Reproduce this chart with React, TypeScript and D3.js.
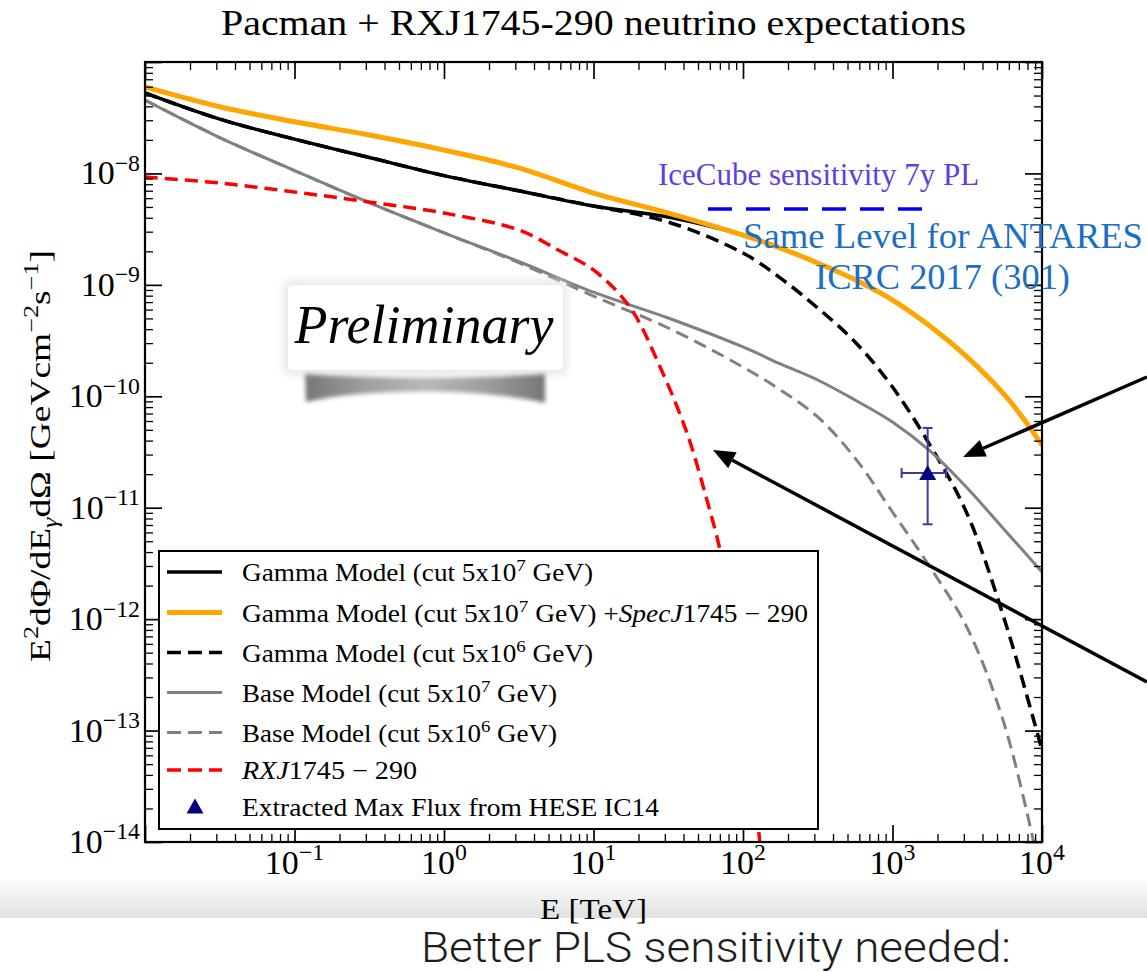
import React, { useEffect, useRef } from 'react';
import * as d3 from 'd3';

// energies in TeV, fluxes in GeV cm^-2 s^-1
const energyGrid = [0.01, 0.0316, 0.1, 0.316, 1, 3.16, 10, 31.6, 100, 178, 316, 562, 1000, 1780, 3160, 5620, 10000];
const energyGridTail = [0.01, 0.0316, 0.1, 0.316, 1, 3.16, 10, 31.6, 100, 178, 316, 562, 1000, 1780, 3160, 5620, 7940, 10000];

const gammaCut7 = [5.27e-8, 3.07e-8, 2.03e-8, 1.39e-8, 9.56e-9, 6.99e-9, 5.1e-9, 4.06e-9, 2.8e-9, 2.14e-9, 1.57e-9, 1.11e-9, 7.31e-10, 4.27e-10, 2.25e-10, 1.03e-10, 5.7e-11, 3.64e-11];
const gammaCut7PlusRxj = [5.97e-8, 3.97e-8, 2.91e-8, 2.21e-8, 1.62e-8, 1.12e-8, 6.67e-9, 4.41e-9, 2.8e-9, 2.14e-9, 1.57e-9, 1.11e-9, 7.31e-10, 4.27e-10, 2.25e-10, 1.03e-10, 5.7e-11, 3.64e-11];
const gammaCut6 = [5.27e-8, 3.07e-8, 2.03e-8, 1.39e-8, 9.56e-9, 6.99e-9, 5.1e-9, 3.66e-9, 1.93e-9, 1.15e-9, 6.2e-10, 3.07e-10, 1.21e-10, 3.65e-11, 8.78e-12, 9.83e-13, 6.69e-14];
const baseCut7 = [4.56e-8, 2.1e-8, 1.06e-8, 5.46e-9, 2.93e-9, 1.62e-9, 8.6e-10, 5.04e-10, 2.77e-10, 1.95e-10, 1.4e-10, 9.26e-11, 5.88e-11, 3.23e-11, 1.5e-11, 6.31e-12, 2.65e-12];
const baseCut6 = [4.56e-8, 2.1e-8, 1.06e-8, 5.46e-9, 2.93e-9, 1.58e-9, 7.92e-10, 4.1e-10, 1.83e-10, 1.14e-10, 6.52e-11, 2.79e-11, 9.15e-12, 2.94e-12, 8.33e-13, 1.12e-13, 4.56e-15];

const rxjEnergy = [0.01, 0.0316, 0.1, 0.316, 1, 3.16, 5.97, 10, 17.5, 27.9, 42.2, 57.4, 70.2, 103, 128, 143];
const rxjFlux = [9.29e-9, 8.2e-9, 6.81e-9, 5.54e-9, 4.41e-9, 3.11e-9, 2.01e-9, 1.36e-9, 6.33e-10, 1.83e-10, 4.68e-11, 1.17e-11, 4.17e-12, 2.84e-13, 1.16e-14, 3.02e-15];

// extracted HESE point: [E, flux], x error range, y error range
const hesePoint = [1719, 2.05e-11];
const heseErrE = [1151, 2278];
const heseErrFlux = [7.1e-12, 5.2e-11];

// IceCube 7y sensitivity level
const sensEnergy = [58.3, 1600];
const sensFlux = [4.8e-9, 4.8e-9];

// annotation arrows: [E, flux] of tail and tip
const arrowTails = [[50350, 1.49e-10], [50350, 2.73e-13]];
const arrowTips = [[2965, 2.85e-11], [63, 3.3e-11]];

const xDecades = [-2, -1, 0, 1, 2, 3, 4];
const yDecades = [-14, -13, -12, -11, -10, -9, -8, -7];
const xLabelDecades = [-1, 0, 1, 2, 3, 4];
const yLabelDecades = [-14, -13, -12, -11, -10, -9, -8];

type Seg = { t: string; sup?: boolean; sub?: boolean; it?: boolean };

const legendLabels: Seg[][] = [
  [{ t: 'Gamma Model (cut 5x10' }, { t: '7', sup: true }, { t: ' GeV)' }],
  [{ t: 'Gamma Model (cut 5x10' }, { t: '7', sup: true }, { t: ' GeV) +' }, { t: 'SpecJ', it: true }, { t: '1745 − 290' }],
  [{ t: 'Gamma Model (cut 5x10' }, { t: '6', sup: true }, { t: ' GeV)' }],
  [{ t: 'Base Model (cut 5x10' }, { t: '7', sup: true }, { t: ' GeV)' }],
  [{ t: 'Base Model (cut 5x10' }, { t: '6', sup: true }, { t: ' GeV)' }],
  [{ t: 'RXJ', it: true }, { t: '1745 − 290' }],
  [{ t: 'Extracted Max Flux from HESE IC14' }],
];
const legendWidths = [351, 566, 351, 315, 315, 175, 417];

const serif = "'Liberation Serif', 'Times New Roman', serif";

function addSegs(text: any, segs: Seg[], size: number) {
  let offset = 0;
  segs.forEach(s => {
    const target = s.sup ? -size * 0.4 : s.sub ? size * 0.25 : 0;
    const ts = text.append('tspan').attr('dy', target - offset).text(s.t);
    offset = target;
    if (s.sup || s.sub) ts.attr('font-size', size * 0.7);
    if (s.it) ts.attr('font-style', 'italic');
  });
}

const App = () => {
  const svgRef = useRef<SVGSVGElement>(null);

  useEffect(() => {
    const svg = d3.select(svgRef.current);
    svg.selectAll('*').remove();

    const left = 145, right = 1042, top = 62, bottom = 842;
    const x = d3.scaleLog().domain([0.01, 1e4]).range([left, right]);
    const y = d3.scaleLog().domain([1e-14, 1e-7]).range([bottom, top]);

    const defs = svg.append('defs');
    defs.append('clipPath').attr('id', 'plot-clip')
      .append('rect').attr('x', left).attr('y', top).attr('width', right - left).attr('height', bottom - top);
    const band = defs.append('linearGradient').attr('id', 'band').attr('x1', 0).attr('y1', 0).attr('x2', 0).attr('y2', 1);
    band.append('stop').attr('offset', '0%').attr('stop-color', '#ffffff');
    band.append('stop').attr('offset', '100%').attr('stop-color', '#e0e0e0');
    const shade = defs.append('linearGradient').attr('id', 'shade');
    [['0%', '#767676'], ['22%', '#9a9a9a'], ['50%', '#b8b8b8'], ['78%', '#9a9a9a'], ['100%', '#767676']]
      .forEach(([o, c]) => shade.append('stop').attr('offset', o).attr('stop-color', c));
    defs.append('filter').attr('id', 'blur2').attr('x', '-20%').attr('y', '-50%').attr('width', '140%').attr('height', '200%')
      .append('feGaussianBlur').attr('stdDeviation', 2);
    defs.append('filter').attr('id', 'blur5').attr('x', '-20%').attr('y', '-50%').attr('width', '140%').attr('height', '200%')
      .append('feGaussianBlur').attr('stdDeviation', 5);

    svg.append('rect').attr('width', 1147).attr('height', 972).attr('fill', '#fff');

    // slide shadow band under the axis
    svg.append('rect').attr('x', 0).attr('y', 878).attr('width', 1147).attr('height', 40).attr('fill', 'url(#band)');

    // title
    svg.append('text')
      .attr('x', (left + right) / 2).attr('y', 35)
      .attr('text-anchor', 'middle')
      .attr('font-family', serif).attr('font-size', 36)
      .attr('textLength', 745).attr('lengthAdjust', 'spacingAndGlyphs')
      .text('Pacman + RXJ1745-290 neutrino expectations');

    // curves
    const line = d3.line<[number, number]>()
      .x(d => x(d[0]))
      .y(d => y(d[1]))
      .curve(d3.curveCatmullRom.alpha(0.5));

    const series = [
      { energy: energyGridTail, flux: gammaCut7, color: '#000', width: 3.5, dash: null },
      { energy: energyGridTail, flux: gammaCut7PlusRxj, color: '#FFA500', width: 5, dash: null },
      { energy: energyGrid, flux: gammaCut6, color: '#000', width: 3.5, dash: '13,7' },
      { energy: energyGrid, flux: baseCut7, color: '#808080', width: 3, dash: null },
      { energy: energyGrid, flux: baseCut6, color: '#808080', width: 3, dash: '13,7' },
      { energy: rxjEnergy, flux: rxjFlux, color: '#FF0000', width: 3.5, dash: '13,7' },
    ];

    const curves = svg.append('g').attr('clip-path', 'url(#plot-clip)');
    series.forEach(s => {
      curves.append('path')
        .datum(d3.zip(s.energy, s.flux) as [number, number][])
        .attr('fill', 'none')
        .attr('stroke', s.color)
        .attr('stroke-width', s.width)
        .attr('stroke-dasharray', s.dash)
        .attr('d', line);
    });

    // sensitivity level
    svg.append('path')
      .datum(d3.zip(sensEnergy, sensFlux) as [number, number][])
      .attr('fill', 'none')
      .attr('stroke', '#0000FF')
      .attr('stroke-width', 3.5)
      .attr('stroke-dasharray', '24,14')
      .attr('d', d3.line<[number, number]>().x(d => x(d[0])).y(d => y(d[1])));

    // HESE point with error bars
    const px = x(hesePoint[0]), py = y(hesePoint[1]);
    const eb = svg.append('g').attr('stroke', '#3b3b9e').attr('stroke-width', 2);
    eb.append('line').attr('x1', x(heseErrE[0])).attr('x2', x(heseErrE[1])).attr('y1', py).attr('y2', py);
    eb.append('line').attr('x1', px).attr('x2', px).attr('y1', y(heseErrFlux[0])).attr('y2', y(heseErrFlux[1]));
    heseErrE.forEach(e => eb.append('line').attr('x1', x(e)).attr('x2', x(e)).attr('y1', py - 5).attr('y2', py + 5));
    heseErrFlux.forEach(f => eb.append('line').attr('x1', px - 5).attr('x2', px + 5).attr('y1', y(f)).attr('y2', y(f)));
    const tri = (cx: number, cy: number) => `M${cx},${cy - 8}L${cx + 8.5},${cy + 7}L${cx - 8.5},${cy + 7}Z`;
    svg.append('path').attr('d', tri(px, py)).attr('fill', '#000080');

    // ticks on all four sides, pointing inward
    const xMinor: number[] = [];
    xDecades.slice(0, -1).forEach(p => d3.range(2, 10).forEach(m => xMinor.push(m * 10 ** p)));
    const yMinor: number[] = [];
    yDecades.slice(0, -1).forEach(p => d3.range(2, 10).forEach(m => yMinor.push(m * 10 ** p)));
    const xMajor = xDecades.map(p => 10 ** p);
    const yMajor = yDecades.map(p => 10 ** p);

    const axes = svg.append('g');
    const addAxis = (axis: any, tr: string, w: number) => {
      const g = axes.append('g').attr('transform', tr).call(axis);
      g.select('.domain').remove();
      g.selectAll('text').remove();
      g.selectAll('line').attr('stroke', '#000').attr('stroke-width', w);
    };
    addAxis(d3.axisBottom(x).tickValues(xMajor).tickSize(-17).tickSizeOuter(0), `translate(0,${bottom})`, 1.7);
    addAxis(d3.axisBottom(x).tickValues(xMinor).tickSize(-8).tickSizeOuter(0), `translate(0,${bottom})`, 1.3);
    addAxis(d3.axisTop(x).tickValues(xMajor).tickSize(-17).tickSizeOuter(0), `translate(0,${top})`, 1.7);
    addAxis(d3.axisTop(x).tickValues(xMinor).tickSize(-8).tickSizeOuter(0), `translate(0,${top})`, 1.3);
    addAxis(d3.axisLeft(y).tickValues(yMajor).tickSize(-17).tickSizeOuter(0), `translate(${left},0)`, 1.7);
    addAxis(d3.axisLeft(y).tickValues(yMinor).tickSize(-8).tickSizeOuter(0), `translate(${left},0)`, 1.3);
    addAxis(d3.axisRight(y).tickValues(yMajor).tickSize(-17).tickSizeOuter(0), `translate(${right},0)`, 1.7);
    addAxis(d3.axisRight(y).tickValues(yMinor).tickSize(-8).tickSizeOuter(0), `translate(${right},0)`, 1.3);

    svg.append('rect')
      .attr('x', left).attr('y', top).attr('width', right - left).attr('height', bottom - top)
      .attr('fill', 'none').attr('stroke', '#000').attr('stroke-width', 2.2);

    // tick labels
    xLabelDecades.forEach(p => {
      const t = svg.append('text')
        .attr('x', x(10 ** p)).attr('y', 874)
        .attr('text-anchor', 'middle')
        .attr('font-family', serif).attr('font-size', 34);
      addSegs(t, [{ t: '10' }, { t: p < 0 ? `−${-p}` : `${p}`, sup: true }], 34);
    });
    yLabelDecades.forEach(p => {
      const t = svg.append('text')
        .attr('x', 140).attr('y', y(10 ** p) + 11)
        .attr('text-anchor', 'end')
        .attr('font-family', serif).attr('font-size', 34);
      addSegs(t, [{ t: '10' }, { t: `−${-p}`, sup: true }], 34);
    });

    // axis titles
    const xt = svg.append('text')
      .attr('x', (left + right) / 2).attr('y', 919)
      .attr('text-anchor', 'middle')
      .attr('font-family', serif).attr('font-size', 29)
      .attr('textLength', 107).attr('lengthAdjust', 'spacingAndGlyphs');
    addSegs(xt, [{ t: 'E [TeV]' }], 29);

    const yt = svg.append('text')
      .attr('transform', `translate(50,${(top + bottom) / 2 + 4}) rotate(-90)`)
      .attr('text-anchor', 'middle')
      .attr('font-family', serif).attr('font-size', 29)
      .attr('textLength', 412).attr('lengthAdjust', 'spacingAndGlyphs');
    addSegs(yt, [
      { t: 'E' }, { t: '2', sup: true }, { t: 'dΦ/dE' }, { t: 'γ', sub: true, it: true },
      { t: 'dΩ [GeVcm' }, { t: '−2', sup: true }, { t: 's' }, { t: '−1', sup: true }, { t: ']' },
    ], 29);

    // legend
    const rowY = [572, 612.5, 652.5, 692.5, 732.5, 770, 806.5];
    const lg = svg.append('g');
    lg.append('rect').attr('x', 159).attr('y', 551).attr('width', 659).attr('height', 278)
      .attr('fill', '#fff').attr('stroke', '#000').attr('stroke-width', 2);
    series.forEach((s, i) => {
      lg.append('line')
        .attr('x1', 167).attr('x2', 222).attr('y1', rowY[i]).attr('y2', rowY[i])
        .attr('stroke', s.color).attr('stroke-width', s.width)
        .attr('stroke-dasharray', s.dash ? '14,7' : null);
    });
    lg.append('path').attr('d', tri(195, rowY[6])).attr('fill', '#000080');
    legendLabels.forEach((segs, i) => {
      const t = lg.append('text')
        .attr('x', 242).attr('y', rowY[i] + 9)
        .attr('font-family', serif).attr('font-size', 25)
        .attr('textLength', legendWidths[i]).attr('lengthAdjust', 'spacingAndGlyphs');
      addSegs(t, segs, 25);
    });

    // "Preliminary" stamp
    const st = svg.append('g');
    st.append('rect').attr('x', 283).attr('y', 281).attr('width', 284).attr('height', 93).attr('rx', 6)
      .attr('fill', '#e6e6e6').attr('filter', 'url(#blur5)');
    st.append('path')
      .attr('d', 'M305,374 C380,379 470,379 545,374 L545,403 C480,388 370,388 306,402 Z')
      .attr('fill', 'url(#shade)').attr('filter', 'url(#blur2)');
    st.append('rect').attr('x', 288).attr('y', 285).attr('width', 275).attr('height', 85).attr('rx', 4)
      .attr('fill', '#fff');
    st.append('text')
      .attr('x', 424).attr('y', 343)
      .attr('text-anchor', 'middle')
      .attr('font-family', serif).attr('font-style', 'italic').attr('font-size', 54)
      .text('Preliminary');

    // annotations
    svg.append('text')
      .attr('x', 658).attr('y', 185)
      .attr('font-family', serif).attr('font-size', 31).attr('fill', '#5d3fe3')
      .text('IceCube sensitivity 7y PL');
    svg.append('text')
      .attr('x', 743).attr('y', 248)
      .attr('font-family', serif).attr('font-size', 36).attr('fill', '#1d6fc3')
      .attr('textLength', 400).attr('lengthAdjust', 'spacingAndGlyphs')
      .text('Same Level for ANTARES');
    svg.append('text')
      .attr('x', 815).attr('y', 289)
      .attr('font-family', serif).attr('font-size', 36).attr('fill', '#1d6fc3')
      .attr('textLength', 255).attr('lengthAdjust', 'spacingAndGlyphs')
      .text('ICRC 2017 (301)');

    arrowTips.forEach((tip, i) => {
      const [tx, ty] = [x(tip[0]), y(tip[1])];
      const [sx, sy] = [x(arrowTails[i][0]), y(arrowTails[i][1])];
      const ang = Math.atan2(ty - sy, tx - sx);
      const len = 22, half = 9;
      const bx = tx - len * Math.cos(ang), by = ty - len * Math.sin(ang);
      svg.append('line').attr('x1', sx).attr('y1', sy).attr('x2', bx).attr('y2', by)
        .attr('stroke', '#000').attr('stroke-width', 3.5);
      const nx = -Math.sin(ang) * half, ny = Math.cos(ang) * half;
      svg.append('path')
        .attr('d', `M${tx},${ty}L${bx + nx},${by + ny}L${bx - nx},${by - ny}Z`)
        .attr('fill', '#000');
    });

    svg.append('text')
      .attr('x', 421).attr('y', 962)
      .attr('font-family', "Roboto, 'Liberation Sans', Arial, sans-serif").attr('font-weight', 300).attr('font-size', 42)
      .attr('fill', '#1e1e1e')
      .attr('textLength', 590).attr('lengthAdjust', 'spacingAndGlyphs')
      .text('Better PLS sensitivity needed:');
  }, []);

  return (
    <svg
      ref={svgRef}
      width={1147}
      height={972}
      style={{ position: 'absolute', left: 0, top: 0, display: 'block' }}
    />
  );
};

export default App;
